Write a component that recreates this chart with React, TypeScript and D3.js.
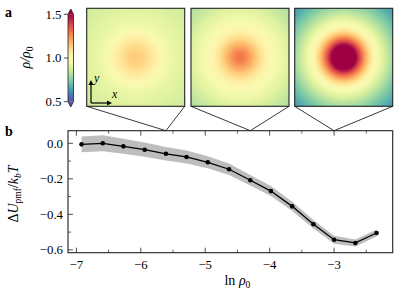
import React, { useMemo } from 'react'
import * as d3 from 'd3'

// panel b: free energy vs ln(rho0)
const lnRho0 = [-6.92, -6.59, -6.27, -5.94, -5.61, -5.29, -4.96, -4.63, -4.3, -3.98, -3.65, -3.32, -3.0, -2.67, -2.34]
const dU = [-0.006, 0.0, -0.017, -0.036, -0.059, -0.077, -0.107, -0.146, -0.208, -0.269, -0.355, -0.456, -0.543, -0.561, -0.505]
const dUErr = [0.045, 0.045, 0.042, 0.04, 0.038, 0.036, 0.034, 0.032, 0.03, 0.028, 0.026, 0.024, 0.022, 0.02, 0.02]
const xTicks = [-7, -6, -5, -4, -3]
const yTicks = [0.0, -0.2, -0.4, -0.6]

// panel a: radial density profiles rho/rho0 (r in units of box half-width)
const radii = [0, 0.1, 0.2, 0.3, 0.4, 0.5, 0.6, 0.7, 0.8, 0.9, 1.0, 1.1, 1.2, 1.3, 1.42]
const profileLow = [1.14, 1.13, 1.11, 1.08, 1.05, 1.01, 0.97, 0.94, 0.92, 0.91, 0.9, 0.89, 0.88, 0.87, 0.86]
const profileMid = [1.3, 1.27, 1.22, 1.16, 1.1, 1.05, 1.01, 0.98, 0.95, 0.92, 0.9, 0.87, 0.85, 0.83, 0.81]
const profileHigh = [1.9, 1.8, 1.6, 1.42, 1.26, 1.13, 1.03, 0.96, 0.9, 0.84, 0.79, 0.74, 0.7, 0.66, 0.63]
const snapshotIdx = [4, 8, 12]
const cbTicks = [0.5, 1.0, 1.5]

const W = 397
const H = 298
const font = "'Liberation Serif', 'DejaVu Serif', serif"
const ink = '#222'
const tickFont = 12.8

const cmap = (v: number) => d3.interpolateSpectral(1 - Math.max(0, Math.min(1, (v - 0.5) / 1.0)))

function heatmapURL(profile: number[]) {
  const n = 56
  const canvas = document.createElement('canvas')
  canvas.width = n
  canvas.height = n
  const ctx = canvas.getContext('2d')
  if (!ctx) return ''
  const f = d3.scaleLinear().domain(radii).range(profile).clamp(true)
  for (let i = 0; i < n; i++) {
    for (let j = 0; j < n; j++) {
      const px = ((i + 0.5) / n) * 2 - 1
      const py = ((j + 0.5) / n) * 2 - 1
      ctx.fillStyle = cmap(f(Math.sqrt(px * px + py * py)))
      ctx.fillRect(i, j, 1, 1)
    }
  }
  return canvas.toDataURL()
}

export default function App() {
  const margin = { top: 130.7, right: 4.3, bottom: 45.3, left: 68 }
  const x = d3.scaleLinear().domain([-7.13, -2.09]).range([margin.left, W - margin.right])
  const y = d3.scaleLinear().domain([-0.616, 0.071]).range([H - margin.bottom, margin.top])

  const urls = useMemo(() => [profileLow, profileMid, profileHigh].map(heatmapURL), [])

  const pts = lnRho0.map((v, i) => ({ x: v, y: dU[i], e: dUErr[i] }))
  const line = d3.line<any>().x(d => x(d.x)).y(d => y(d.y))
  const band = d3.area<any>().x(d => x(d.x)).y0(d => y(d.y - d.e)).y1(d => y(d.y + d.e))

  const minorX = d3.range(-7, -2, 0.5)
  const minorY = d3.range(-0.6, 0.05, 0.1)

  // snapshot boxes
  const boxTop = 8.3
  const boxSize = 98
  const boxX = [86.7, 191, 294.7]

  // colorbar
  const cb = { x: 68, w: 5.5, top: 14.3, bottom: 101.7 }
  const cy = d3.scaleLinear().domain([0.5, 1.5]).range([cb.bottom, cb.top])

  return (
    <svg width={W} height={H} style={{ position: 'absolute', left: 0, top: 0, background: '#fff', fontFamily: font }}>
      <defs>
        <linearGradient id="cbgrad" x1="0" y1="1" x2="0" y2="0">
          {d3.range(0, 1.001, 0.05).map(t => (
            <stop key={t} offset={t} stopColor={cmap(0.5 + t)} />
          ))}
        </linearGradient>
      </defs>

      {/* panel labels */}
      <text x={5} y={17} fontSize={14} fontWeight="bold">a</text>
      <text x={5} y={136} fontSize={14} fontWeight="bold">b</text>

      {/* colorbar */}
      <rect x={cb.x} y={cb.top} width={cb.w} height={cb.bottom - cb.top} fill="url(#cbgrad)" />
      <path d={`M${cb.x},${cb.top}L${cb.x + cb.w / 2},${cb.top - 5.3}L${cb.x + cb.w},${cb.top}Z`} fill={cmap(1.5)} />
      <path d={`M${cb.x},${cb.bottom}L${cb.x + cb.w / 2},${cb.bottom + 5.3}L${cb.x + cb.w},${cb.bottom}Z`} fill={cmap(0.5)} />
      <path
        d={`M${cb.x},${cb.top}L${cb.x + cb.w / 2},${cb.top - 5.3}L${cb.x + cb.w},${cb.top}L${cb.x + cb.w},${cb.bottom}L${cb.x + cb.w / 2},${cb.bottom + 5.3}L${cb.x},${cb.bottom}Z`}
        fill="none" stroke={ink} strokeWidth={0.8} />
      {cbTicks.map(t => (
        <g key={t}>
          <line x1={cb.x - 4} x2={cb.x} y1={cy(t)} y2={cy(t)} stroke={ink} strokeWidth={0.8} />
          <text x={cb.x - 6.5} y={cy(t)} dy="0.35em" textAnchor="end" fontSize={tickFont}>{t.toFixed(1)}</text>
        </g>
      ))}
      <text transform="translate(30,57.5) rotate(-90)" textAnchor="middle" fontSize={14} fontStyle="italic">
        ρ/ρ<tspan fontSize={9.5} dy={2.5} fontStyle="normal">0</tspan>
      </text>

      {/* snapshots */}
      {boxX.map((bx, k) => (
        <g key={k}>
          <image href={urls[k]} x={bx} y={boxTop} width={boxSize} height={boxSize} preserveAspectRatio="none" />
          <rect x={bx} y={boxTop} width={boxSize} height={boxSize} fill="none" stroke={ink} strokeWidth={1.1} />
          <line x1={bx} y1={boxTop + boxSize} x2={x(lnRho0[snapshotIdx[k]])} y2={margin.top} stroke={ink} strokeWidth={0.9} />
          <line x1={bx + boxSize} y1={boxTop + boxSize} x2={x(lnRho0[snapshotIdx[k]])} y2={margin.top} stroke={ink} strokeWidth={0.9} />
        </g>
      ))}

      {/* xy axes glyph */}
      <g stroke="#000" strokeWidth={1.2}>
        <line x1={91} y1={103} x2={91} y2={83} />
        <line x1={91} y1={103} x2={109} y2={103} />
      </g>
      <path d="M91,80L88.5,85L93.5,85Z" fill="#000" />
      <path d="M112,103L107,100.5L107,105.5Z" fill="#000" />
      <text x={94} y={82} fontSize={12} fontStyle="italic">y</text>
      <text x={112} y={98} fontSize={12} fontStyle="italic">x</text>

      {/* panel b */}
      <path d={band(pts) || ''} fill="#bdbdbd" />
      <path d={line(pts) || ''} fill="none" stroke="#000" strokeWidth={1.3} />
      {pts.map((d, i) => (
        <circle key={i} cx={x(d.x)} cy={y(d.y)} r={2.3} fill="#000" />
      ))}

      {/* ticks */}
      {xTicks.map(t => (
        <g key={t}>
          <line x1={x(t)} x2={x(t)} y1={H - margin.bottom} y2={H - margin.bottom - 5} stroke={ink} strokeWidth={0.8} />
          <line x1={x(t)} x2={x(t)} y1={margin.top} y2={margin.top + 5} stroke={ink} strokeWidth={0.8} />
          <text x={x(t)} y={H - margin.bottom + 12} dy="0.35em" textAnchor="middle" fontSize={tickFont}>{'\u2212' + Math.abs(t)}</text>
        </g>
      ))}
      {minorX.filter(t => !Number.isInteger(t)).map(t => (
        <g key={t}>
          <line x1={x(t)} x2={x(t)} y1={H - margin.bottom} y2={H - margin.bottom - 3} stroke={ink} strokeWidth={0.7} />
          <line x1={x(t)} x2={x(t)} y1={margin.top} y2={margin.top + 3} stroke={ink} strokeWidth={0.7} />
        </g>
      ))}
      {yTicks.map(t => (
        <g key={t}>
          <line x1={margin.left} x2={margin.left + 5} y1={y(t)} y2={y(t)} stroke={ink} strokeWidth={0.8} />
          <text x={margin.left - 5} y={y(t)} dy="0.35em" textAnchor="end" fontSize={tickFont}>
            {(t < 0 ? '\u2212' : '') + Math.abs(t).toFixed(1)}
          </text>
        </g>
      ))}
      {minorY.filter(t => Math.abs(Math.round(t * 10) % 2) === 1).map(t => (
        <line key={t} x1={margin.left} x2={margin.left + 3} y1={y(t)} y2={y(t)} stroke={ink} strokeWidth={0.7} />
      ))}
      <rect x={margin.left} y={margin.top} width={W - margin.right - margin.left} height={H - margin.bottom - margin.top}
        fill="none" stroke={ink} strokeWidth={1.1} />

      {/* axis labels */}
      <text x={x(-4.5)} y={285} textAnchor="middle" fontSize={14}>
        ln <tspan fontStyle="italic">ρ</tspan><tspan fontSize={9.5} dy={2.5}>0</tspan>
      </text>
      <text transform="translate(18,194) rotate(-90)" textAnchor="middle" fontSize={14}>
        Δ<tspan fontStyle="italic">U</tspan><tspan fontSize={9.5} dy={3}>pmf</tspan>
        <tspan dy={-3}>/</tspan><tspan fontStyle="italic">k</tspan><tspan fontSize={9.5} dy={3} fontStyle="italic">b</tspan>
        <tspan dy={-3} fontStyle="italic">T</tspan>
      </text>
    </svg>
  )
}
